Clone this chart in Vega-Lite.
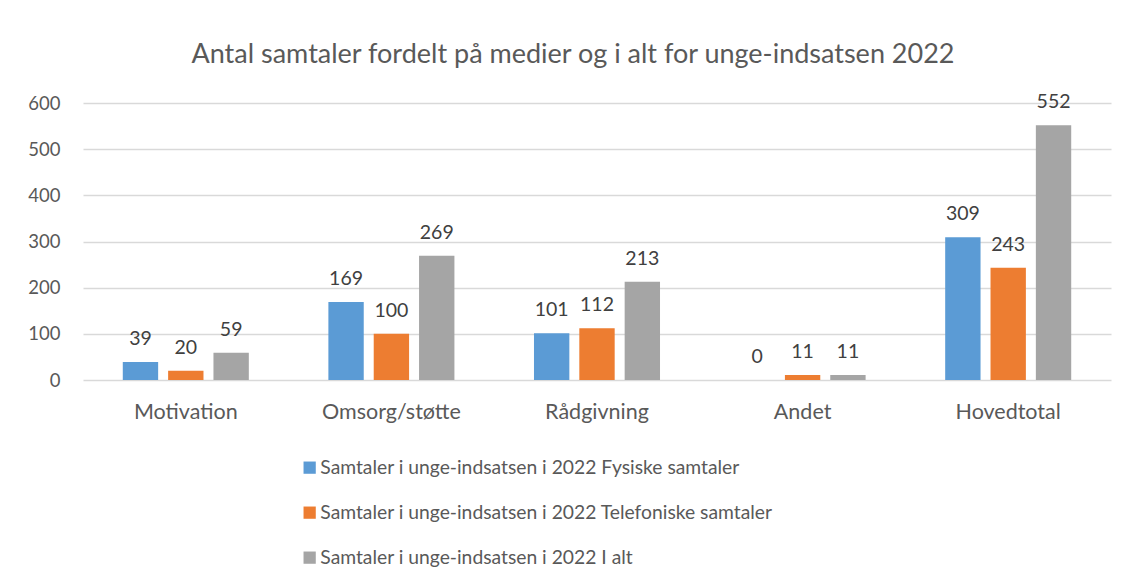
{
  "$schema": "https://vega.github.io/schema/vega-lite/v6.json",
  "width": 1028,
  "height": 277,
  "autosize": {"type": "none"},
  "padding": {"left": 83, "top": 103, "right": 15, "bottom": 201},
  "background": "white",
  "config": {
    "font": "Lato",
    "view": {"stroke": null},
    "axis": {"labelColor": "#595959", "labelFont": "Lato", "labelFontSize": 18, "gridColor": "#D9D9D9", "gridWidth": 1.5, "ticks": false, "domain": false}
  },
  "title": {
    "text": "Antal samtaler fordelt på medier og i alt for unge-indsatsen 2022",
    "fontSize": 27,
    "fontWeight": "normal",
    "color": "#595959",
    "font": "Lato",
    "anchor": "middle",
    "dx": -24,
    "offset": 23
  },
  "data": {
    "values": [
      {"kategori": "Motivation", "serie": "Samtaler i unge-indsatsen i 2022 Fysiske samtaler", "antal": 39},
      {"kategori": "Motivation", "serie": "Samtaler i unge-indsatsen i 2022 Telefoniske samtaler", "antal": 20},
      {"kategori": "Motivation", "serie": "Samtaler i unge-indsatsen i 2022 I alt", "antal": 59},
      {"kategori": "Omsorg/støtte", "serie": "Samtaler i unge-indsatsen i 2022 Fysiske samtaler", "antal": 169},
      {"kategori": "Omsorg/støtte", "serie": "Samtaler i unge-indsatsen i 2022 Telefoniske samtaler", "antal": 100},
      {"kategori": "Omsorg/støtte", "serie": "Samtaler i unge-indsatsen i 2022 I alt", "antal": 269},
      {"kategori": "Rådgivning", "serie": "Samtaler i unge-indsatsen i 2022 Fysiske samtaler", "antal": 101},
      {"kategori": "Rådgivning", "serie": "Samtaler i unge-indsatsen i 2022 Telefoniske samtaler", "antal": 112},
      {"kategori": "Rådgivning", "serie": "Samtaler i unge-indsatsen i 2022 I alt", "antal": 213},
      {"kategori": "Andet", "serie": "Samtaler i unge-indsatsen i 2022 Fysiske samtaler", "antal": 0},
      {"kategori": "Andet", "serie": "Samtaler i unge-indsatsen i 2022 Telefoniske samtaler", "antal": 11},
      {"kategori": "Andet", "serie": "Samtaler i unge-indsatsen i 2022 I alt", "antal": 11},
      {"kategori": "Hovedtotal", "serie": "Samtaler i unge-indsatsen i 2022 Fysiske samtaler", "antal": 309},
      {"kategori": "Hovedtotal", "serie": "Samtaler i unge-indsatsen i 2022 Telefoniske samtaler", "antal": 243},
      {"kategori": "Hovedtotal", "serie": "Samtaler i unge-indsatsen i 2022 I alt", "antal": 552}
    ]
  },
  "encoding": {
    "x": {
      "field": "kategori", "type": "nominal",
      "sort": ["Motivation", "Omsorg/støtte", "Rådgivning", "Andet", "Hovedtotal"],
      "scale": {"paddingInner": 0.387, "paddingOuter": 0.1935},
      "axis": {"title": null, "labelAngle": 0, "labelPadding": 21, "labelFontSize": 21.5, "grid": false}
    },
    "xOffset": {
      "field": "serie", "type": "nominal",
      "sort": ["Samtaler i unge-indsatsen i 2022 Fysiske samtaler", "Samtaler i unge-indsatsen i 2022 Telefoniske samtaler", "Samtaler i unge-indsatsen i 2022 I alt"],
      "scale": {"paddingInner": 0.22, "paddingOuter": 0}
    },
    "y": {
      "field": "antal", "type": "quantitative",
      "scale": {"domain": [0, 600], "nice": false},
      "axis": {"title": null, "values": [0, 100, 200, 300, 400, 500, 600], "labelPadding": 23, "labelFontSize": 18.5}
    }
  },
  "layer": [
    {
      "mark": {"type": "bar"},
      "encoding": {
        "color": {
          "field": "serie", "type": "nominal",
          "sort": ["Samtaler i unge-indsatsen i 2022 Fysiske samtaler", "Samtaler i unge-indsatsen i 2022 Telefoniske samtaler", "Samtaler i unge-indsatsen i 2022 I alt"],
          "scale": {"range": ["#5B9BD5", "#ED7D31", "#A5A5A5"]},
          "legend": {
            "title": null, "orient": "none", "legendX": 217, "legendY": 355,
            "direction": "vertical", "symbolType": "square", "symbolSize": 150,
            "symbolStrokeWidth": 0, "labelFontSize": 19.3, "labelColor": "#595959",
            "labelFont": "Lato", "rowPadding": 25, "labelOffset": 1, "labelLimit": 800
          }
        }
      }
    },
    {
      "mark": {"type": "text", "baseline": "alphabetic", "dy": -17, "fontSize": 19.5, "color": "#404040", "font": "Lato"},
      "encoding": {"text": {"field": "antal", "type": "quantitative"}}
    }
  ]
}
